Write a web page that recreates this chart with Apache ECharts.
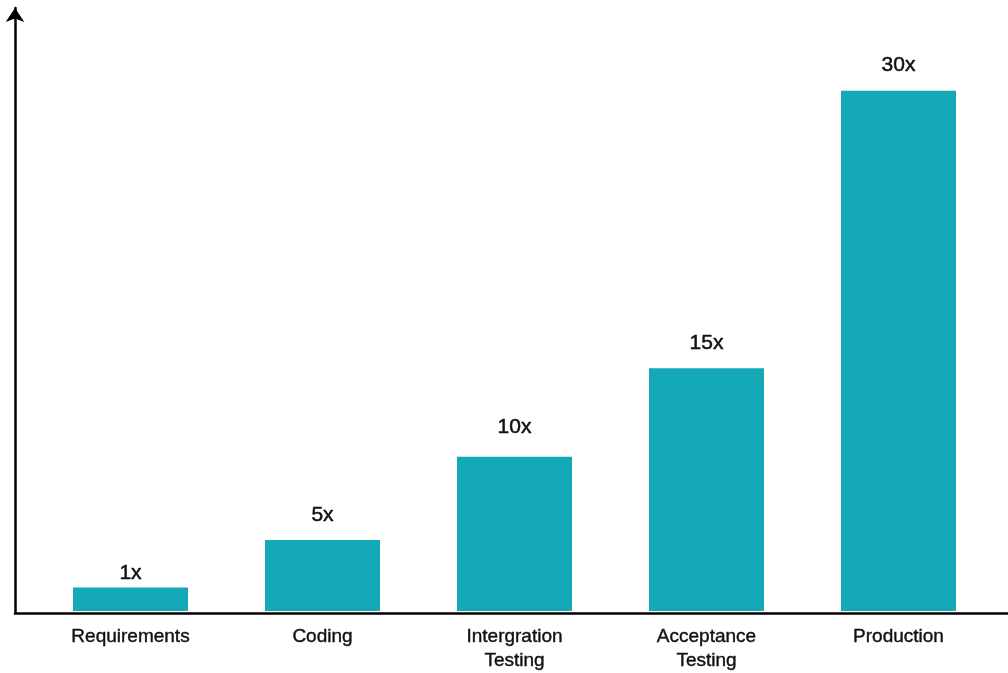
<!DOCTYPE html>
<html>
<head>
<meta charset="utf-8">
<script src="https://cdn.jsdelivr.net/npm/echarts@6/dist/echarts.min.js"></script>
<style>html,body{margin:0;padding:0;background:#fff;}#c{width:1008px;height:673px;}</style>
</head>
<body>
<div id="c"></div>
<script>
const categories = ['Requirements', 'Coding', 'Intergration\nTesting', 'Acceptance\nTesting', 'Production'];
const barHeights = [1.35, 4.1, 8.9, 14.0, 30];
const valueLabels = ['1x', '5x', '10x', '15x', '30x'];

const FONT = '"Liberation Sans", Helvetica, Arial, sans-serif';
const labelGaps = [4, 14, 18.5, 14, 15];
const chart = echarts.init(document.getElementById('c'), null, {renderer: 'canvas'});
chart.setOption({
  backgroundColor: '#ffffff',
  animation: false,
  grid: [
    {left: 15, right: 0, top: 8, bottom: 60, containLabel: false},
    {left: 34.5, right: 13.5, top: 90.7, bottom: 60, containLabel: false}
  ],
  xAxis: [
    {gridIndex: 0, type: 'value', min: 0, max: 1, axisLabel: {show: false}, axisTick: {show: false},
     splitLine: {show: false}, axisLine: {show: true, onZero: false, lineStyle: {color: '#000', width: 2.5}}},
    {gridIndex: 1, type: 'category', data: categories, axisLine: {show: false}, axisTick: {show: false},
     axisLabel: {color: '#111', fontFamily: FONT, fontSize: 19, lineHeight: 24, margin: 14, interval: 0,
                 textBorderColor: '#111', textBorderWidth: 0.4}}
  ],
  yAxis: [
    {gridIndex: 0, type: 'value', min: 0, max: 1, axisLabel: {show: false}, axisTick: {show: false},
     splitLine: {show: false},
     axisLine: {show: true, onZero: false, symbol: ['none', 'arrow'], symbolSize: [14, 14],
                lineStyle: {color: '#000', width: 2.5}}},
    {gridIndex: 1, type: 'value', min: 0, max: 30, show: false, splitLine: {show: false}}
  ],
  series: [{
    type: 'bar',
    xAxisIndex: 1,
    yAxisIndex: 1,
    data: barHeights.map((v, i) => ({value: v, label: {distance: labelGaps[i]}})),
    barWidth: 115,
    itemStyle: {color: '#14A9B6'},
    label: {
      show: true,
      position: 'top',
      color: '#111',
      fontFamily: FONT,
      fontSize: 21,
      lineHeight: 21,
      textBorderColor: '#111',
      textBorderWidth: 0.5,
      formatter: p => valueLabels[p.dataIndex]
    }
  }]
});
</script>
</body>
</html>
